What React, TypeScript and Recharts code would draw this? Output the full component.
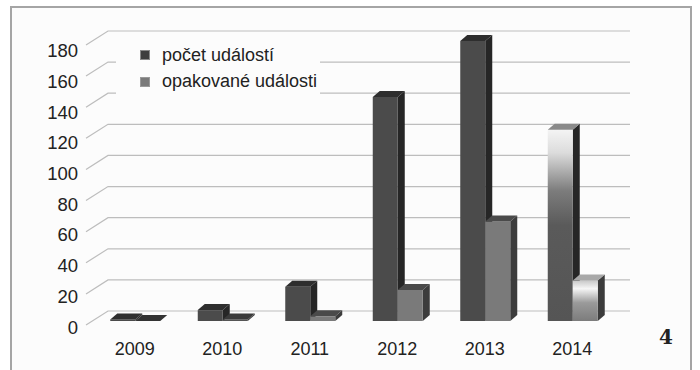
import React from 'react';
import { BarChart, Bar, XAxis, YAxis, CartesianGrid, Cell } from 'recharts';

const years = ['2009', '2010', '2011', '2012', '2013', '2014'];
const eventCounts = [1, 7, 22, 144, 180, 123];
const repeatedEvents = [0, 1, 3, 20, 64, 26];
const yTicks = [0, 20, 40, 60, 80, 100, 120, 140, 160, 180];

const data = years.map((year, i) => ({
  year,
  count: eventCounts[i],
  repeated: repeatedEvents[i],
}));

const DX = 7;
const DY = 6;
const WALL_DX = 22;
const WALL_DY = 10;

// fake 3D column: front face, top and right side
const Column = (props: any) => {
  const { x, y, width, height, front, top, side } = props;
  const h = Math.max(height, 0);
  return (
    <g>
      <polygon
        points={`${x + width},${y} ${x + width + DX},${y - DY} ${x + width + DX},${y + h - DY} ${x + width},${y + h}`}
        fill={side}
      />
      <rect x={x} y={y} width={width} height={h} fill={front} />
      <polygon
        points={`${x},${y} ${x + DX},${y - DY} ${x + width + DX},${y - DY} ${x + width},${y}`}
        fill={top}
      />
    </g>
  );
};

// gridlines sit on the back wall, with a short diagonal on the left side wall
const WallLine = (props: any) => {
  const { x1, x2, y1 } = props;
  const bx = x1 - 5 + WALL_DX;
  const by = y1 - WALL_DY;
  return (
    <polyline
      points={`${x1 - 5},${y1 + 4} ${bx},${by} ${x2 + 14},${by}`}
      fill="none"
      stroke="#bdbdbd"
      strokeWidth={1.2}
    />
  );
};

const YTick = (props: any) => {
  const { x, y, payload } = props;
  const shift = 6 + 3.7 * (payload.value / 180);
  return (
    <text x={x - 5} y={y + shift} textAnchor="end" dominantBaseline="central" fontSize={18.5} fill="#222">
      {payload.value}
    </text>
  );
};

const XTick = (props: any) => {
  const { x, y, payload } = props;
  return (
    <text x={x} y={y + 26} textAnchor="middle" fontSize={18} fill="#222">
      {payload.value}
    </text>
  );
};

const countFront = ['#4b4b4b', '#4b4b4b', '#4b4b4b', '#4b4b4b', '#4b4b4b', 'url(#fade2014)'];
const countTop = ['#2e2e2e', '#2e2e2e', '#2e2e2e', '#2e2e2e', '#2e2e2e', '#8a8a8a'];
const repFront = ['#4a4a4a', '#555555', '#7a7a7a', '#7a7a7a', '#7a7a7a', 'url(#fadeRep2014)'];
const repTop = ['#333333', '#3a3a3a', '#4a4a4a', '#4a4a4a', '#4a4a4a', '#a8a8a8'];

export default function App() {
  return (
    <div style={{ position: 'relative', width: 700, height: 370, background: '#fff', fontFamily: '"Liberation Sans", Arial, sans-serif', overflow: 'hidden' }}>
      <style>{'html,body{margin:0;padding:0;overflow:hidden;}'}</style>
      <svg style={{ position: 'absolute', left: 0, top: 0 }} width={700} height={370}>
        <rect x={11} y={7} width={680} height={380} fill="#fcfcfc" />
        <path d="M11,370 L11,7 L691,7 L691,370" fill="none" stroke="#a5a5a5" strokeWidth={2} />
      </svg>
      <div style={{ position: 'absolute', left: 0, top: 0 }}>
        <BarChart
          width={700}
          height={370}
          data={data}
          margin={{ top: 41, right: 84, bottom: 19, left: 51 }}
          barCategoryGap="22%"
          barGap={0}
        >
          <defs>
            <linearGradient id="fade2014" x1="0" y1="0" x2="0" y2="1">
              <stop offset="0" stopColor="#f4f4f4" />
              <stop offset="0.12" stopColor="#dcdcdc" />
              <stop offset="0.32" stopColor="#7c7c7c" />
              <stop offset="0.5" stopColor="#5a5a5a" />
              <stop offset="1" stopColor="#555555" />
            </linearGradient>
            <linearGradient id="fadeRep2014" x1="0" y1="0" x2="0" y2="1">
              <stop offset="0" stopColor="#c8c8c8" />
              <stop offset="0.2" stopColor="#f6f6f6" />
              <stop offset="0.55" stopColor="#9a9a9a" />
              <stop offset="1" stopColor="#7c7c7c" />
            </linearGradient>
          </defs>
          <CartesianGrid vertical={false} horizontal={(p: any) => <WallLine key={p.key} {...p} />} />
          <XAxis dataKey="year" axisLine={false} tickLine={false} height={30} tick={<XTick />} />
          <YAxis domain={[0, 180]} ticks={yTicks} axisLine={false} tickLine={false} width={40} tick={<YTick />} interval={0} />
          <Bar
            dataKey="count"
            isAnimationActive={false}
            shape={(p: any) => <Column {...p} front={countFront[p.index]} top={countTop[p.index]} side="#262626" />}
          >
            {data.map((d, i) => (
              <Cell key={`c-${i}`} fill={countFront[i]} />
            ))}
          </Bar>
          <Bar
            dataKey="repeated"
            isAnimationActive={false}
            shape={(p: any) => <Column {...p} front={repFront[p.index]} top={repTop[p.index]} side="#3c3c3c" />}
          >
            {data.map((d, i) => (
              <Cell key={`r-${i}`} fill={repFront[i]} />
            ))}
          </Bar>
        </BarChart>
      </div>
      <div style={{ position: 'absolute', left: 116, top: 40, width: 204, height: 60, background: '#fcfcfc' }}>
        <div style={{ position: 'absolute', left: 24, top: 10, width: 8, height: 8, background: '#3e3e3e', border: '1px solid #888' }} />
        <div style={{ position: 'absolute', left: 46, top: 5, fontSize: 18, color: '#222', whiteSpace: 'nowrap' }}>počet událostí</div>
        <div style={{ position: 'absolute', left: 24, top: 37, width: 8, height: 8, background: '#7a7a7a', border: '1px solid #999' }} />
        <div style={{ position: 'absolute', left: 46, top: 30.5, fontSize: 18, color: '#222', whiteSpace: 'nowrap' }}>opakované události</div>
      </div>
      <svg style={{ position: 'absolute', left: 0, top: 0 }} width={700} height={370}>
        <text x={666} y={344} textAnchor="middle" fontFamily='"DejaVu Serif", serif' fontWeight="bold" fontSize={20} fill="#222">4</text>
      </svg>
    </div>
  );
}
